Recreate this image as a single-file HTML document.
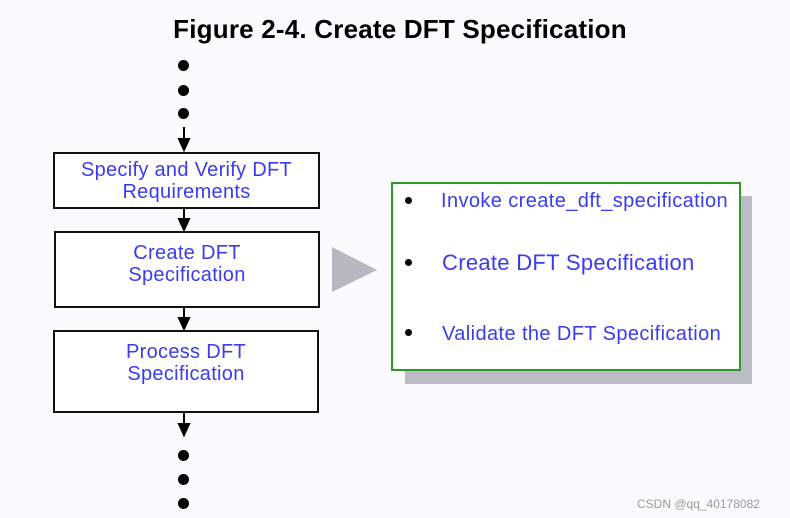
<html><head><style>
body{margin:0;width:790px;height:518px;background:#fbfbfd;position:relative;overflow:hidden;font-family:"Liberation Sans",sans-serif}
.t{position:absolute;left:0;width:800px;top:14px;text-align:center;font-weight:bold;font-size:26px;letter-spacing:0.2px;color:#000}
.b{position:absolute;border:2px solid #111;background:#fff;box-sizing:border-box;color:#3b3bf0;font-size:20px;letter-spacing:0.3px;text-align:center;line-height:22px}
.d{position:absolute;width:11px;height:11px;border-radius:50%;background:#000;left:178px}
.i{position:absolute;color:#3b3bf0;font-size:20px;letter-spacing:0.4px;white-space:nowrap}
.bl{position:absolute;width:7px;height:7px;border-radius:50%;background:#000;left:405px}
</style></head><body>
<div class="t">Figure 2-4. Create DFT Specification</div>
<div class="d" style="top:60px"></div><div class="d" style="top:85px"></div><div class="d" style="top:108px"></div>
<div class="d" style="top:450px"></div><div class="d" style="top:474px"></div><div class="d" style="top:498px"></div>
<svg style="position:absolute;left:0;top:0" width="790" height="518">
<g stroke="#000" stroke-width="2" fill="#000">
<line x1="184" y1="127" x2="184" y2="150"/><path d="M179 139 L184 150 L189 139Z"/>
<line x1="184" y1="208" x2="184" y2="230"/><path d="M179 219 L184 230 L189 219Z"/>
<line x1="184" y1="307" x2="184" y2="329"/><path d="M179 318 L184 329 L189 318Z"/>
<line x1="184" y1="412" x2="184" y2="436"/><path d="M179 424 L184 435 L189 424Z"/>
</g>
<path d="M332 247 L377 270 L332 292Z" fill="#b8b8c2"/>
<rect x="405" y="196" width="347" height="188" fill="#bcbcc6"/>
<rect x="392" y="183" width="348" height="187" fill="#fff" stroke="#2a9a2a" stroke-width="2"/>
</svg>
<div class="b" style="left:53px;top:152px;width:267px;height:57px;padding-top:5px">Specify and Verify DFT<br>Requirements</div>
<div class="b" style="left:54px;top:231px;width:266px;height:77px;padding-top:9px">Create DFT<br>Specification</div>
<div class="b" style="left:53px;top:330px;width:266px;height:83px;padding-top:9px">Process DFT<br>Specification</div>
<div class="bl" style="top:197px"></div><div class="bl" style="top:259px"></div><div class="bl" style="top:329px"></div>
<div class="i" style="left:441px;top:190px">Invoke create_dft_specification</div>
<div class="i" style="left:442px;top:250px;font-size:22px;letter-spacing:0.3px">Create DFT Specification</div>
<div class="i" style="left:442px;top:323px">Validate the DFT Specification</div>
<div style="position:absolute;left:637px;top:497px;font-size:12px;color:#999">CSDN @qq_40178082</div>
</body></html>
